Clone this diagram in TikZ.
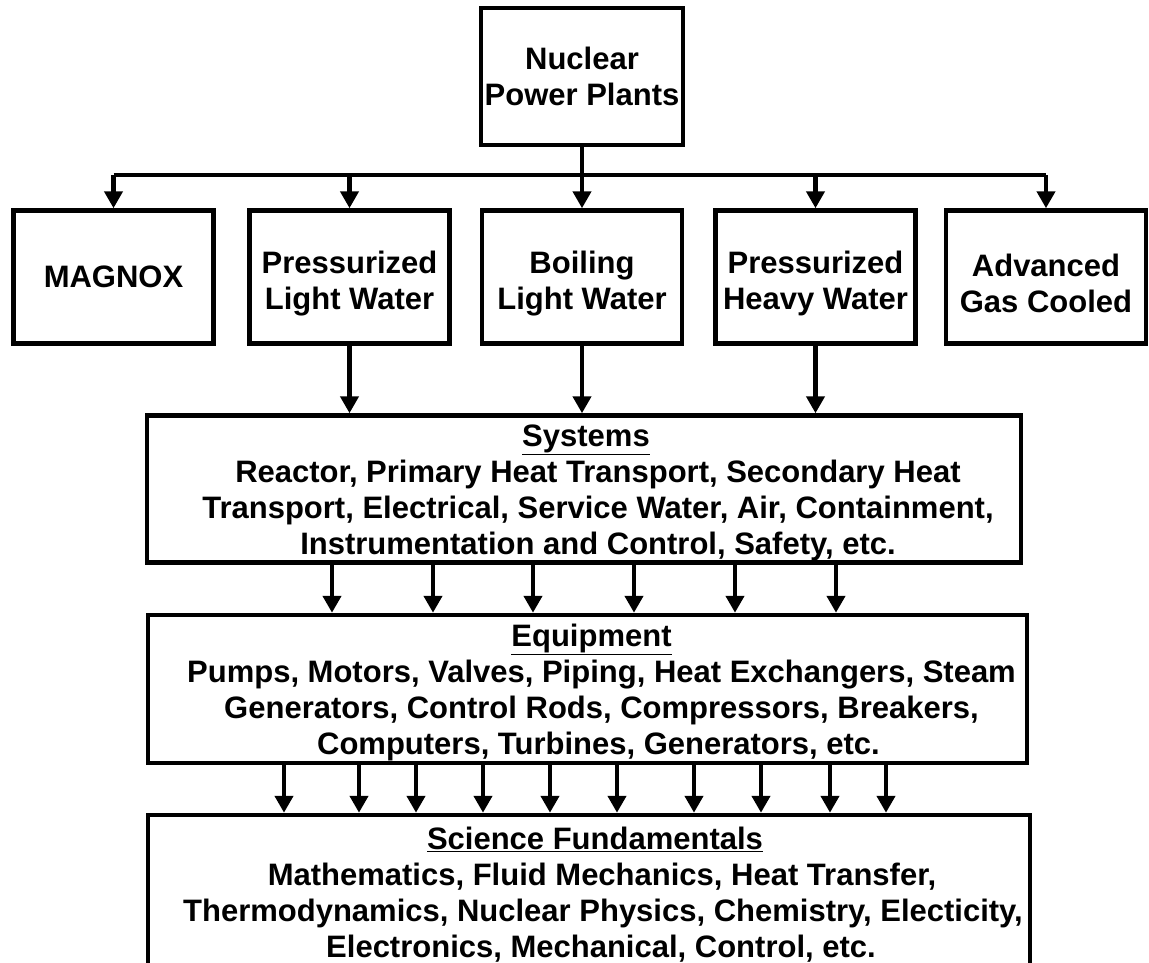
\documentclass[tikz,border=0pt]{standalone}
\usepackage{fontspec}
\setmainfont{Liberation Sans}
\usetikzlibrary{arrows.meta}
\newcommand{\rsh}[1]{\hspace*{#1pt}}
\newcommand{\tallA}{\rule{0pt}{35pt}}
\newcommand{\tallB}{\rule{0pt}{30pt}}
\begin{document}
\begin{tikzpicture}[x=1pt,y=-1pt,
  box/.style={draw, line width=4.5pt, inner sep=0pt, align=center,
    font=\bfseries\fontsize{31}{36}\selectfont},
  rbox/.style={box, minimum width=200pt, minimum height=133pt},
  conn/.style={line width=4.5pt},
  arr/.style={line width=4.5pt, -{Triangle[length=17pt,width=18pt]}}]
\useasboundingbox (0,0) rectangle (1149,962);
\clip (0,0) rectangle (1149,962);
\node[box, minimum width=202pt, minimum height=137pt] (top) at (582,76.5) {Nuclear\\Power Plants};
\node[rbox] (magnox) at (113.5,277) {MAGNOX};
\node[rbox] (plw) at (349.5,277) {\tallA Pressurized\\Light Water};
\node[rbox] (blw) at (582,277) {\tallA Boiling\\Light Water};
\node[rbox] (phw) at (815.5,277) {\tallA Pressurized\\Heavy Water};
\node[rbox] (agc) at (1046,277) {\tallA Advanced\\Gas Cooled};
\node[box, minimum width=874pt, minimum height=147pt] (sys) at (584,489)
  {\tallB\rsh{4}\underline{Systems}\\\rsh{28}Reactor, Primary Heat Transport, Secondary Heat\\\rsh{28}Transport, Electrical, Service Water, Air, Containment,\\\rsh{28}Instrumentation and Control, Safety, etc.};
\node[box, minimum width=879pt, minimum height=148pt] (eq) at (587.5,689)
  {\tallB\rsh{8}\underline{Equipment}\\\rsh{28}Pumps, Motors, Valves, Piping, Heat Exchangers, Steam\\\rsh{28}Generators, Control Rods, Compressors, Breakers,\\\rsh{22}Computers, Turbines, Generators, etc.};
\node[box, minimum width=882pt, minimum height=151pt] (sci) at (589,890.5)
  {\tallB\rsh{12}\underline{Science Fundamentals}\\\rsh{26}Mathematics, Fluid Mechanics, Heat Transfer,\\\rsh{28}Thermodynamics, Nuclear Physics, Chemistry, Electicity,\\\rsh{24}Electronics, Mechanical, Control, etc.};
\coordinate (bus) at (582,175);
\draw[conn] (top.south) -- (bus);
\draw[conn] (magnox.north |- bus) -- (agc.north |- bus);
\foreach \n in {magnox,plw,blw,phw,agc} \draw[arr] (\n.north |- bus) -- (\n.north);
\foreach \n in {plw,blw,phw} \draw[arr] (\n.south) -- (\n.south |- sys.north);
\foreach \x in {332,433,533,634,735,836} \draw[arr] (sys.south -| \x,0) -- (eq.north -| \x,0);
\foreach \x in {284,359,416,483,550,617,694,761,830,886} \draw[arr] (eq.south -| \x,0) -- (sci.north -| \x,0);
\end{tikzpicture}
\end{document}
